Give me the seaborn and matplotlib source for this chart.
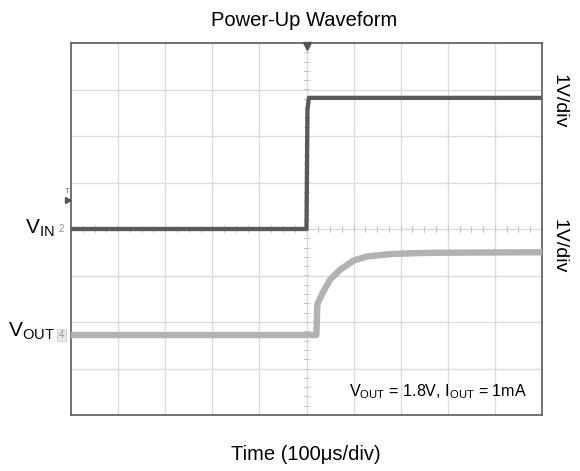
import numpy as np
import pandas as pd
import matplotlib
matplotlib.use("Agg")
import matplotlib.pyplot as plt
import seaborn as sns

# ---- data (in screen divisions; 1 V/div, 100 us/div) ----
vin_time = [0.0, 5.0, 5.02, 5.05, 10.0]
vin_level = [0.0, 0.0, 2.55, 2.82, 2.82]

vout_time = [0.0, 5.21, 5.23, 5.36, 5.50, 5.71, 6.00, 6.28, 6.77, 7.30, 7.83, 10.0]
vout_level = [-2.28, -2.28, -1.62, -1.34, -1.09, -0.88, -0.68, -0.59, -0.54, -0.52, -0.51, -0.50]

title = "Power-Up Waveform"
xlabel = "Time (100μs/div)"
scale_labels = ["1V/div", "1V/div"]

sns.set_style("white")
plt.rcParams["font.family"] = ["Liberation Sans", "DejaVu Sans"]
plt.rcParams["mathtext.fontset"] = "custom"
plt.rcParams["mathtext.rm"] = "Liberation Sans"
plt.rcParams["mathtext.it"] = "Liberation Sans"
plt.rcParams["text.color"] = "black"

fig = plt.figure(figsize=(5.8, 4.71), dpi=100)
ax = fig.add_axes([71/580, 1-415/471, 471/580, 372/471])
ax.set_xlim(0, 10)
ax.set_ylim(-4, 4)

# grid
for gx in range(1, 10):
    ax.axvline(gx, color="#dcdcdc", lw=1.0, zorder=0)
for gy in range(-3, 4):
    ax.axhline(gy, color="#dcdcdc", lw=1.0, zorder=0)
# minor ticks on center lines
for mx in np.arange(0, 10.01, 0.25):
    ax.plot([mx, mx], [-0.07, 0.07], color="#c8c8c8", lw=0.8, zorder=0)
for my in np.arange(-4, 4.01, 0.2):
    ax.plot([4.94, 5.06], [my, my], color="#c8c8c8", lw=0.8, zorder=0)

df_in = pd.DataFrame({"t": vin_time, "v": vin_level})
df_out = pd.DataFrame({"t": vout_time, "v": vout_level})
sns.lineplot(data=df_out, x="t", y="v", ax=ax, color="#b2b2b2", lw=4.6,
             estimator=None, sort=False, zorder=3)
sns.lineplot(data=df_in, x="t", y="v", ax=ax, color="#5a5a5a", lw=3.1,
             estimator=None, sort=False, zorder=4)

ax.set_xticks([])
ax.set_yticks([])
ax.set_xlabel("")
ax.set_ylabel("")
for s in ax.spines.values():
    s.set_color("#5a5a5a")
    s.set_linewidth(1.2)

# trigger marker at top
ax.plot([5.0], [3.93], marker="v", color="#555555", ms=6, clip_on=False, zorder=5)
# left side markers
ax.plot([-0.06], [0.62], marker=">", color="#555555", ms=4, clip_on=False)
ax.text(-0.08, 0.80, "T", fontsize=6, color="#777777", ha="center", va="center")
ax.text(-0.2, 0.0, "2", fontsize=7, color="#888888", ha="center", va="center")
ax.text(-0.2, -2.28, "4", fontsize=7, color="#999999", ha="center", va="center",
        bbox=dict(boxstyle="square,pad=0.15", fc="#e8e8e8", ec="#cccccc", lw=0.6))

# channel labels
ax.text(-0.35, 0.02, r"$\mathregular{V_{IN}}$", fontsize=15, ha="right", va="center", clip_on=False)
ax.text(-0.35, -2.2, r"$\mathregular{V_{OUT}}$", fontsize=15, ha="right", va="center", clip_on=False)

# scale labels at right
ax.text(10.36, 2.74, scale_labels[0], fontsize=14, rotation=270, ha="center", va="center", clip_on=False)
ax.text(10.36, -0.38, scale_labels[1], fontsize=14, rotation=270, ha="center", va="center", clip_on=False)

# annotation
ax.text(9.68, -3.5, r"$\mathregular{V_{OUT}}$ = 1.8V, $\mathregular{I_{OUT}}$ = 1mA",
        fontsize=11.6, ha="right", va="center")

fig.text(304.5/580, 1-20/471, title, fontsize=14.5, ha="center", va="center")
fig.text(305.5/580, 1-454/471, xlabel, fontsize=14.5, ha="center", va="center")

fig.savefig("out.png", dpi=100)
